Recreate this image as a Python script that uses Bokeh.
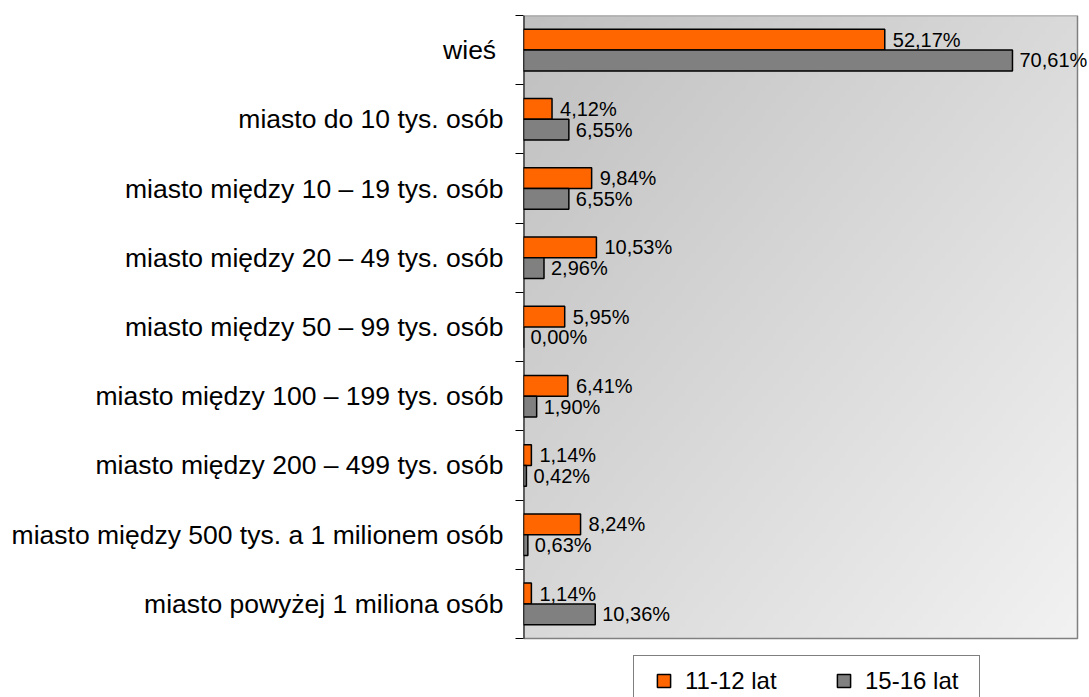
import numpy as np
from bokeh.plotting import figure
from bokeh.models import (ColumnDataSource, Range1d, FixedTicker, LabelSet,
                          Legend, LegendItem)
from bokeh.core.properties import value
from bokeh.embed import file_html
from bokeh.resources import INLINE

# ---- data ----
categories = [
    "wieś",
    "miasto do 10 tys. osób",
    "miasto między 10 – 19 tys. osób",
    "miasto między 20 – 49 tys. osób",
    "miasto między 50 – 99 tys. osób",
    "miasto między 100 – 199 tys. osób",
    "miasto między 200 – 499 tys. osób",
    "miasto między 500 tys. a 1 milionem osób",
    "miasto powyżej 1 miliona osób",
]
series_names = ["11-12 lat", "15-16 lat"]
values_11_12 = [52.17, 4.12, 9.84, 10.53, 5.95, 6.41, 1.14, 8.24, 1.14]
values_15_16 = [70.61, 6.55, 6.55, 2.96, 0.00, 1.90, 0.42, 0.63, 10.36]
colors = ["#FF6600", "#808080"]

n = len(categories)
FONT = "Liberation Sans"
X_MAX = 80          # value-axis maximum of the plot area

def fmt(v):
    return f"{v:.2f}".replace(".", ",") + "%"

centers = [n - i - 0.5 for i in range(n)]
bar_h = 0.3

src_a = ColumnDataSource(dict(y=[c + bar_h / 2 for c in centers], v=values_11_12,
                              lab=[fmt(v) for v in values_11_12]))
src_b = ColumnDataSource(dict(y=[c - bar_h / 2 for c in centers], v=values_15_16,
                              lab=[fmt(v) for v in values_15_16]))

# layout: plot area 523..1077 x 15..638 px; frame extended to the page edge
W, H = 1089, 697
left_px, right_px, top_px, bottom_px = 523, 1077, 15, 638
px_per_x = (right_px - left_px) / X_MAX
px_per_y = (bottom_px - top_px) / n
x_end = X_MAX + (W - right_px) / px_per_x
y_start = -(H - bottom_px) / px_per_y

p = figure(width=W, height=H, output_backend="svg", toolbar_location=None,
           x_range=Range1d(0, x_end), y_range=Range1d(y_start, n),
           min_border_left=left_px, min_border_right=0, min_border_top=top_px,
           min_border_bottom=0)

# gradient background of the plot area
nx, ny = 200, 100
u = np.linspace(0, 1, nx)[None, :]
vtop = np.linspace(1, 0, ny)[:, None]
g = np.clip(192 + 26 * u + 24 * vtop, 0, 255).astype(np.uint32)
img = (np.uint32(255) << 24) | (g << 16) | (g << 8) | g
p.image_rgba(image=[img.astype(np.uint32)], x=0, y=0, dw=X_MAX, dh=n)

# plot-area border
p.quad(left=0, right=X_MAX, bottom=0, top=n, fill_color=None,
       line_color="#808080", line_width=1.5)
p.segment(x0=0, y0=0, x1=0, y1=n, line_color="black", line_width=2)

p.hbar(y="y", left=0, right="v", height=bar_h, source=src_a,
       fill_color=colors[0], line_color="black", line_width=1.5)
p.hbar(y="y", left=0, right="v", height=bar_h, source=src_b,
       fill_color=colors[1], line_color="black", line_width=1.5)

for src, off in ((src_a, 8), (src_b, 7)):
    p.add_layout(LabelSet(x="v", y="y", text="lab", source=src, x_offset=off,
                          text_baseline="middle", text_align="left",
                          text_font=value(FONT), text_font_size=value("20px"),
                          text_color=value("black")))

# square legend markers (hidden renderers, shown only in the legend)
leg_a = p.scatter(x="v", y="y", source=src_a, marker="square", size=13,
                  fill_color=colors[0], line_color="black", line_width=1.5,
                  visible=False)
leg_b = p.scatter(x="v", y="y", source=src_b, marker="square", size=13,
                  fill_color=colors[1], line_color="black", line_width=1.5,
                  visible=False)
legend = Legend(items=[LegendItem(label=series_names[0], renderers=[leg_a]),
                       LegendItem(label=series_names[1], renderers=[leg_b])],
                orientation="horizontal", location=(633 - left_px, -9),
                glyph_width=43, glyph_height=33, label_standoff=0,
                label_width=106, spacing=31, padding=8, margin=0,
                label_text_font=FONT, label_text_font_size="24px",
                label_text_color="black",
                inactive_fill_alpha=0,
                border_line_color="black", border_line_width=1,
                background_fill_color="white", background_fill_alpha=1)
p.add_layout(legend, "center")

# axes
p.xaxis.visible = False
p.xgrid.visible = False
p.ygrid.visible = False
yax = p.yaxis[0]
yax.ticker = FixedTicker(ticks=centers, minor_ticks=list(range(n + 1)))
labels = list(categories)
labels[0] = labels[0] + "\u00a0"
yax.major_label_overrides = {c: lab for c, lab in zip(centers, labels)}
yax.major_tick_out = 0
yax.major_tick_in = 0
yax.minor_tick_out = 8
yax.minor_tick_in = 0
yax.minor_tick_line_color = "black"
yax.axis_line_color = None
yax.major_label_standoff = 12
yax.major_label_text_font = FONT
yax.major_label_text_font_size = "26.5px"
yax.major_label_text_color = "black"

p.outline_line_color = None
p.background_fill_color = "white"
p.border_fill_color = "white"

open("out.html", "w").write(file_html(p, INLINE))
